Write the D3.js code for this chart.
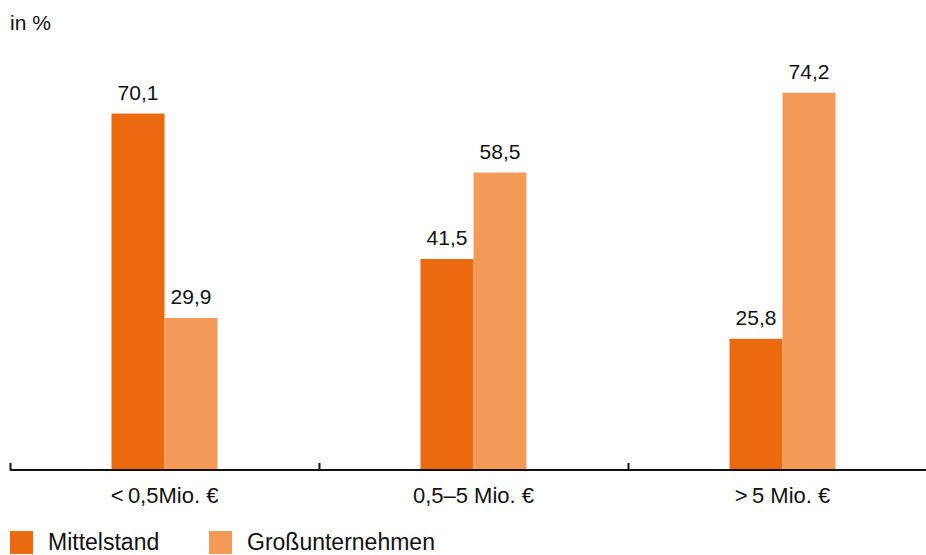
<!DOCTYPE html>
<html>
<head>
<meta charset="utf-8">
<script src="https://cdn.jsdelivr.net/npm/d3@7"></script>
<style>
  html, body { margin: 0; padding: 0; background: #fff; }
  svg { display: block; font-family: "Liberation Sans", Arial, Helvetica, sans-serif; }
</style>
</head>
<body>
<svg id="chart" width="926" height="555"></svg>
<script>
// Kategorien (Umsatzklassen) und Anteile je Unternehmensgröße
const categories = ["<\u20090,5Mio. €", "0,5–5 Mio. €", ">\u20095 Mio. €"];
const seriesNames = ["Mittelstand", "Großunternehmen"];
const mittelstand = [70.1, 41.5, 25.8];
const grossunternehmen = [29.9, 58.5, 74.2];
const colors = ["#EB6A10", "#F49A58"];

const svg = d3.select("#chart");
const baseY = 470;

const x0 = d3.scaleBand().domain(categories).range([10, 937]).padding(0);
const x1 = d3.scaleBand().domain(seriesNames).range([0, 106]).padding(0);
const y = d3.scaleLinear().domain([0, 74.2]).range([baseY, 92.7]);

const fmt = v => d3.format(".1f")(v).replace(".", ",");

// Achsentitel
svg.append("text").attr("x", 10).attr("y", 30)
  .attr("font-size", 21).attr("fill", "#111").text("in %");

const data = categories.map((c, i) => ({
  cat: c,
  values: [
    { key: seriesNames[0], value: mittelstand[i] },
    { key: seriesNames[1], value: grossunternehmen[i] }
  ]
}));

const groups = svg.selectAll("g.grp").data(data).join("g")
  .attr("class", "grp")
  .attr("transform", d => `translate(${x0(d.cat) + x0.bandwidth() / 2 - 53},0)`);

groups.selectAll("rect").data(d => d.values).join("rect")
  .attr("x", d => x1(d.key))
  .attr("y", d => y(d.value))
  .attr("width", x1.bandwidth())
  .attr("height", d => baseY + 1 - y(d.value))
  .attr("fill", (d, i) => colors[i]);

groups.selectAll("text.val").data(d => d.values).join("text")
  .attr("class", "val")
  .attr("x", d => x1(d.key) + x1.bandwidth() / 2)
  .attr("y", d => y(d.value) - 14)
  .attr("text-anchor", "middle")
  .attr("font-size", 21)
  .attr("fill", "#111")
  .text(d => fmt(d.value));

// x-Achse
svg.append("line").attr("x1", 10).attr("x2", 926)
  .attr("y1", baseY).attr("y2", baseY)
  .attr("stroke", "#111").attr("stroke-width", 2);

svg.selectAll("line.tick").data(categories).join("line")
  .attr("class", "tick")
  .attr("x1", d => x0(d) + 0.5).attr("x2", d => x0(d) + 0.5)
  .attr("y1", baseY - 7).attr("y2", baseY)
  .attr("stroke", "#111").attr("stroke-width", 2);

svg.selectAll("text.cat").data(categories).join("text")
  .attr("class", "cat")
  .attr("x", d => x0(d) + x0.bandwidth() / 2)
  .attr("y", 503)
  .attr("text-anchor", "middle")
  .attr("font-size", 22)
  .attr("fill", "#111")
  .text(d => d);

// Legende
const legendX = [10, 209];
const leg = svg.selectAll("g.leg").data(seriesNames).join("g")
  .attr("class", "leg")
  .attr("transform", (d, i) => `translate(${legendX[i]},531)`);
leg.append("rect").attr("width", 23).attr("height", 23)
  .attr("fill", (d, i) => colors[i]);
leg.append("text").attr("x", 38).attr("y", 19)
  .attr("font-size", 23).attr("fill", "#111").text(d => d);
</script>
</body>
</html>
